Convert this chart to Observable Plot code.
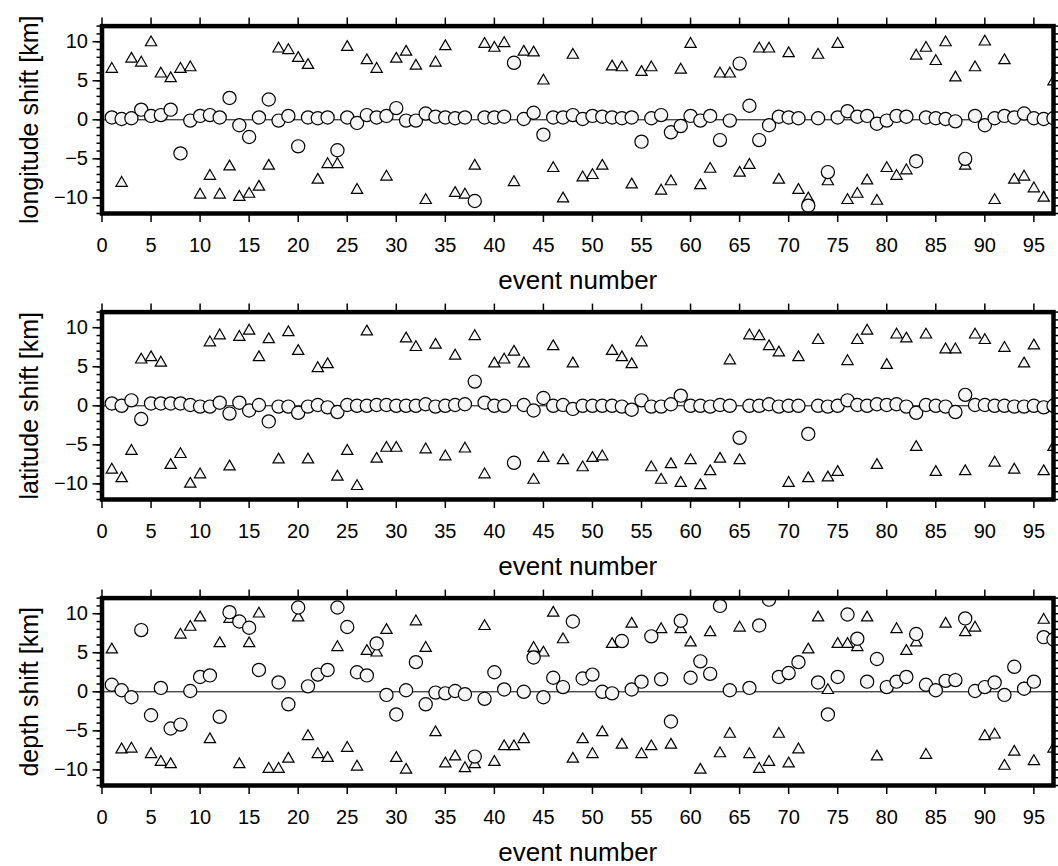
<!DOCTYPE html>
<html>
<head>
<meta charset="utf-8">
<script src="https://cdn.jsdelivr.net/npm/d3@7"></script>
<script src="https://cdn.jsdelivr.net/npm/@observablehq/plot@0.6"></script>
<style>
  body { margin: 0; background: #fff; }
  #chart svg { display: block; }
</style>
</head>
<body>
<div id="chart"></div>
<script>
// Event numbers (x axis)
const eventNumber = [
  1, 2, 3, 4, 5, 6, 7, 8, 9, 10, 11, 12, 13, 14, 15, 16, 17, 18, 19, 20,
  21, 22, 23, 24, 25, 26, 27, 28, 29, 30, 31, 32, 33, 34, 35, 36, 37, 38, 39, 40,
  41, 42, 43, 44, 45, 46, 47, 48, 49, 50, 51, 52, 53, 54, 55, 56, 57, 58, 59, 60,
  61, 62, 63, 64, 65, 66, 67, 68, 69, 70, 71, 72, 73, 74, 75, 76, 77, 78, 79, 80,
  81, 82, 83, 84, 85, 86, 87, 88, 89, 90, 91, 92, 93, 94, 95, 96, 97
];

// Longitude shift [km]: perturbed start (triangles) and relocated result (circles)
const lonStart = [
  6.5, -8.1, 7.8, 7.3, 9.9, 5.9, 5.3, 6.5, 6.7, -9.6, -7.2, -9.6, -6.0, -9.9, -9.5, -8.6, -5.9, 9.1, 8.9, 7.9,
  7.0, -7.7, -5.7, -5.7, 9.3, -9.0, 7.6, 6.5, -7.3, 7.8, 8.7, 6.9, -10.3, 7.3, 9.4, -9.4, -9.6, -5.9, 9.7, 9.2,
  9.8, -8.0, 8.7, 8.6, 5.0, -6.2, -10.1, 8.3, -7.4, -7.1, -5.9, 6.8, 6.7, -8.3, 6.1, 6.7, -9.1, -7.9, 6.4, 9.7,
  -8.4, -6.3, 5.9, 5.9, -6.8, -5.8, 9.1, 9.1, -7.7, 8.5, -9.0, -10.1, 8.3, -7.9, 9.7, -10.3, -9.5, -7.8, -10.4, -6.2,
  -7.2, -6.5, 8.2, 9.2, 7.5, 9.9, 5.4, -5.9, 6.7, 10.0, -10.3, 7.6, -7.7, -7.3, -8.8, -10.0, 4.9
];
const lonFinal = [
  0.3, 0.1, 0.2, 1.3, 0.5, 0.6, 1.3, -4.3, -0.1, 0.5, 0.6, 0.3, 2.8, -0.7, -2.2, 0.3, 2.6, -0.1, 0.5, -3.4,
  0.3, 0.2, 0.3, -3.9, 0.3, -0.4, 0.6, 0.3, 0.5, 1.5, -0.1, -0.1, 0.8, 0.4, 0.3, 0.2, 0.3, -10.4, 0.3, 0.3,
  0.4, 7.3, 0.1, 0.9, -1.9, 0.3, 0.3, 0.6, 0.1, 0.5, 0.4, 0.3, 0.2, 0.3, -2.8, 0.2, 0.6, -1.6, -0.8, 0.5,
  -0.1, 0.5, -2.6, -0.1, 7.2, 1.8, -2.6, -0.7, 0.4, 0.3, 0.2, -11.0, 0.2, -6.7, 0.3, 1.1, 0.4, 0.5, -0.5, -0.1,
  0.5, 0.4, -5.3, 0.3, 0.2, 0.1, -0.2, -5.0, 0.5, -0.7, 0.2, 0.5, 0.3, 0.8, 0.2, 0.1, 0.2
];

// Latitude shift [km]
const latStart = [
  -8.2, -9.3, -5.8, 5.9, 6.2, 5.5, -7.6, -6.2, -10.0, -8.8, 8.1, 9.0, -7.8, 8.8, 9.6, 6.2, 8.5, -6.9, 9.4, 7.0,
  -6.9, 4.8, 5.3, -9.1, -5.8, -10.3, 9.5, -6.8, -5.4, -5.4, 8.6, 7.5, -5.6, 7.8, -6.5, 6.4, -5.5, 8.9, -8.8, 5.4,
  5.9, 6.9, 5.4, -9.5, -6.7, 7.6, -7.0, 5.4, -7.9, -6.7, -6.5, 7.0, 6.2, 5.3, 8.1, -7.9, -9.5, -7.5, -9.9, -7.0,
  -10.2, -8.4, -6.8, 5.8, -7.0, 9.0, 8.9, 7.6, 6.8, -9.9, 6.2, -9.3, 8.4, -9.2, -8.5, 5.7, 8.4, 9.6, -7.6, 5.2,
  9.1, 8.6, -5.3, 9.1, -8.5, 7.2, 7.2, -8.4, 9.1, 8.4, -7.3, 7.4, -8.2, 5.4, 7.7, -8.4, -5.3
];
const latFinal = [
  0.3, 0.0, 0.7, -1.7, 0.3, 0.3, 0.3, 0.3, 0.1, -0.1, -0.1, 0.4, -1.0, 0.4, -0.6, 0.1, -2.0, -0.1, -0.1, -0.9,
  -0.1, 0.1, -0.2, -0.8, 0.1, 0.0, 0.0, 0.1, 0.1, 0.0, 0.0, 0.0, 0.2, -0.1, 0.0, 0.1, 0.2, 3.1, 0.4, 0.0,
  0.0, -7.3, 0.1, -0.6, 1.0, 0.0, 0.1, -0.4, 0.0, 0.0, 0.0, 0.0, -0.1, -0.5, 0.7, -0.1, -0.1, 0.2, 1.3, 0.0,
  0.0, -0.1, 0.1, 0.0, -4.1, 0.0, 0.0, 0.2, -0.1, 0.0, 0.0, -3.6, 0.0, -0.1, 0.0, 0.7, 0.1, 0.0, 0.2, 0.1,
  0.2, -0.1, -0.9, 0.1, 0.0, -0.1, -0.8, 1.4, 0.1, 0.1, 0.0, 0.0, -0.1, -0.1, 0.0, -0.2, 0.0
];

// Depth shift [km]; null = relocated depth outside the plotted range
const depthStart = [
  5.4, -7.4, -7.3, 7.9, -8.0, -9.0, -9.3, 7.3, 8.3, 9.5, -6.1, 6.2, 9.3, -9.3, 6.2, 10.0, -9.9, -9.9, -8.6, 9.5,
  -5.7, -8.0, -8.5, 5.7, -7.2, -9.6, 5.2, 5.0, 7.9, -8.5, -10.0, 9.0, 5.6, -5.2, -9.2, -8.3, -9.8, -9.3, 8.4, -9.0,
  -7.0, -7.0, -6.1, 5.6, 5.0, 10.1, 6.7, -8.6, -6.1, -8.0, -5.2, 6.1, -6.8, 8.7, -8.0, -7.0, 8.0, -6.8, 8.0, 6.3,
  -10.0, 7.6, -7.9, -5.4, 8.2, -8.0, -9.9, -9.0, -5.4, -9.2, -7.4, 5.4, 9.5, 0.2, 6.1, 6.1, 5.7, 9.5, -8.3, 0.6,
  8.0, 5.2, 6.3, -8.1, 0.2, 8.7, 1.5, 7.6, 8.2, -5.7, -5.5, -9.5, -7.7, 0.4, -8.9, 9.2, -7.3
];
const depthFinal = [
  0.9, 0.2, -0.7, 7.9, -3.0, 0.5, -4.7, -4.2, 0.1, 1.9, 2.1, -3.2, 10.2, 9.0, 8.2, 2.8, null, 1.2, -1.6, 10.8,
  0.7, 2.2, 2.8, 10.8, 8.3, 2.5, 2.1, 6.2, -0.4, -2.9, 0.2, 3.8, -1.6, -0.1, -0.2, 0.1, -0.3, -8.3, -0.9, 2.5,
  0.3, null, 0.0, 4.4, -0.7, 1.8, 0.6, 9.0, 1.7, 2.2, 0.0, -0.2, 6.5, 0.3, 1.3, 7.1, 1.6, -3.8, 9.1, 1.8,
  3.9, 2.3, 11.0, 0.2, null, 0.5, 8.5, 11.8, 1.9, 2.4, 3.8, null, 1.2, -2.9, 1.9, 9.9, 6.8, 1.3, 4.2, 0.6,
  1.3, 1.9, 7.4, 0.9, 0.2, 1.4, 1.5, 9.4, 0.1, 0.6, 1.2, -0.4, 3.2, 0.4, 1.3, 7.0, 6.7
];

// Tick values
const xMajorTicks = [0, 5, 10, 15, 20, 25, 30, 35, 40, 45, 50, 55, 60, 65, 70, 75, 80, 85, 90, 95];
const yMajorTicks = [-10, -5, 0, 5, 10];
const yMinorTicks = [-12, -11, -10, -9, -8, -7, -6, -5, -4, -3, -2, -1, 0, 1, 2, 3, 4, 5, 6, 7, 8, 9, 10, 11, 12];

const panels = [
  {label: "longitude shift [km]", start: lonStart, final: lonFinal},
  {label: "latitude shift [km]", start: latStart, final: latFinal},
  {label: "depth shift [km]", start: depthStart, final: depthFinal}
];

const font = "'Liberation Sans', Arial, Helvetica, sans-serif";
const symbolFill = "#f5f5f5";

function panel({label, start, final}, last) {
  const rows = eventNumber.map((e, i) => ({event: e, start: start[i], final: final[i]}));
  // the bottom panel gets a little extra room so its axis title is not cut
  const extra = last ? 8 : 0;
  return Plot.plot({
    width: 1058,
    height: 286 + extra,
    marginLeft: 101.5,
    marginRight: 5,
    marginTop: 25.6,
    marginBottom: 73 + extra,
    x: {domain: [0, 97], label: null},
    y: {domain: [-12, 12], label: null},
    style: {fontFamily: font, fontSize: "20px", color: "black", background: "white", overflow: "visible"},
    marks: [
      Plot.ruleY([0], {stroke: "black", strokeWidth: 1}),
      Plot.dot(rows, {x: "event", y: "start", symbol: "triangle", r: 4.2, fill: symbolFill, stroke: "black", strokeWidth: 1.2, clip: true}),
      Plot.dot(rows, {x: "event", y: "final", symbol: "circle", r: 6.6, fill: symbolFill, stroke: "black", strokeWidth: 1.2, clip: true}),
      Plot.frame({stroke: "black", strokeWidth: 4.5}),
      Plot.axisY(yMajorTicks, {anchor: "left", tickSize: 9, tickPadding: 5, strokeWidth: 1.5, fontSize: 20, label: null}),
      Plot.axisY(yMinorTicks, {anchor: "left", tickSize: 5, strokeWidth: 1.5, tickFormat: () => "", label: null}),
      Plot.axisY(yMinorTicks, {anchor: "right", tickSize: 5, strokeWidth: 1.5, tickFormat: () => "", label: null}),
      Plot.axisX(xMajorTicks, {anchor: "bottom", tickSize: 9, tickPadding: 15, strokeWidth: 1.5, fontSize: 20, tickFormat: d => String(d), label: null}),
      Plot.axisX(xMajorTicks, {anchor: "top", tickSize: 9, strokeWidth: 1.5, tickFormat: () => "", label: null}),
      Plot.text([label], {frameAnchor: "left", dx: -72, rotate: -90, textAnchor: "middle", lineAnchor: "middle", fontSize: 25, fill: "black"}),
      Plot.text(["event number"], {frameAnchor: "bottom", dy: 67, textAnchor: "middle", lineAnchor: "middle", fontSize: 26, fill: "black"})
    ]
  });
}

const chart = document.getElementById("chart");
panels.forEach((p, i) => chart.appendChild(panel(p, i === panels.length - 1)));
</script>
</body>
</html>
